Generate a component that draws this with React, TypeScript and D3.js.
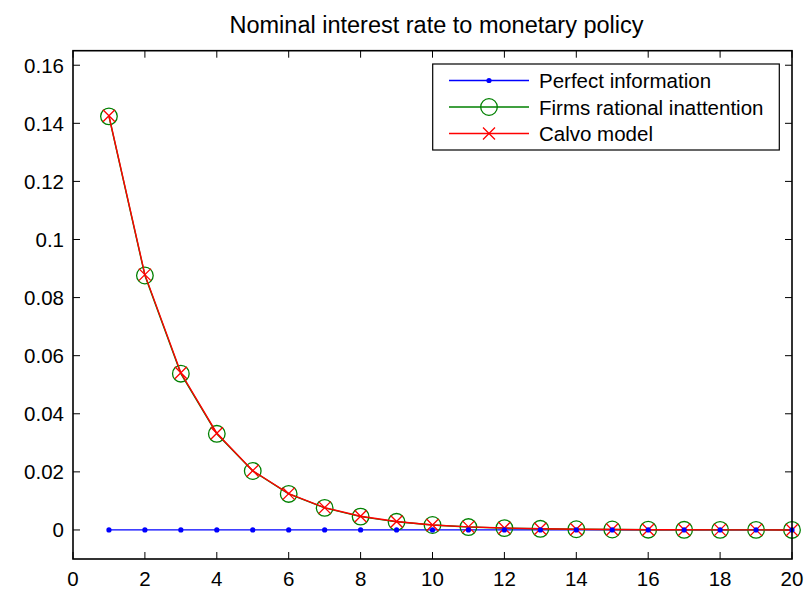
import React from "react";
import * as d3 from "d3";

const periods = [1, 2, 3, 4, 5, 6, 7, 8, 9, 10, 11, 12, 13, 14, 15, 16, 17, 18, 19, 20];
const perfectInfo = [0, 0, 0, 0, 0, 0, 0, 0, 0, 0, 0, 0, 0, 0, 0, 0, 0, 0, 0, 0];
const rationalInattention = [0.1424, 0.0876, 0.0538, 0.0331, 0.0203, 0.0124, 0.0076, 0.0046, 0.0028, 0.0017, 0.001, 0.00063, 0.00039, 0.00024, 0.00015, 0.00009, 0.00005, 0.00003, 0.00002, 0.00001];
const calvo = [0.1426, 0.0879, 0.0541, 0.0333, 0.0204, 0.0125, 0.0077, 0.0047, 0.0029, 0.0017, 0.00105, 0.00065, 0.0004, 0.00024, 0.00015, 0.00009, 0.00006, 0.00003, 0.00002, 0.00001];
const xTicks = [0, 2, 4, 6, 8, 10, 12, 14, 16, 18, 20];
const yTicks = [0, 0.02, 0.04, 0.06, 0.08, 0.1, 0.12, 0.14, 0.16];
const legendLabels = ["Perfect information", "Firms rational inattention", "Calvo model"];
const title = "Nominal interest rate to monetary policy";

const W = 809, H = 596;
const L = 73, R = 792, T = 50.7, B = 559;
const FONT = "'Liberation Sans', Arial, Helvetica, sans-serif";

export default function App() {
  const x = d3.scaleLinear().domain([0, 20]).range([L, R]);
  const y = d3.scaleLinear().domain([-0.01, 0.165]).range([B, T]);
  const line = d3.line<number>().x((_, i) => x(periods[i])).y((d) => y(d));
  const tk = 7;
  const fmt = (v: number) => (v === 0 ? "0" : String(+v.toFixed(2)));

  const xMark = (cx: number, cy: number, s: number, key: string) => (
    <path key={key} d={`M${cx - s},${cy - s}L${cx + s},${cy + s}M${cx - s},${cy + s}L${cx + s},${cy - s}`} stroke="#ff0000" strokeWidth={1.3} fill="none" />
  );

  const legendRows = [80.5, 107, 133.5];
  const lx0 = 449, lx1 = 529, lmx = 489, ltx = 539;

  return (
    <svg width={W} height={H} style={{ position: "fixed", left: 0, top: 0, background: "#fff" }} fontFamily={FONT}>
      <rect x={0} y={0} width={W} height={H} fill="#fff" />
      <text x={(L + R) / 2 + 4} y={33} textAnchor="middle" fontSize={23.5} fill="#000">{title}</text>

      {xTicks.map((t) => (
        <g key={"xt" + t}>
          <line x1={x(t)} x2={x(t)} y1={B} y2={B - tk} stroke="#000" strokeWidth={1} />
          <line x1={x(t)} x2={x(t)} y1={T} y2={T + tk} stroke="#000" strokeWidth={1} />
          <text x={x(t)} y={586} textAnchor="middle" fontSize={20.5} fill="#000">{fmt(t)}</text>
        </g>
      ))}
      {yTicks.map((t) => (
        <g key={"yt" + t}>
          <line x1={L} x2={L + tk} y1={y(t)} y2={y(t)} stroke="#000" strokeWidth={1} />
          <line x1={R} x2={R - tk} y1={y(t)} y2={y(t)} stroke="#000" strokeWidth={1} />
          <text x={64} y={y(t) + 7.5} textAnchor="end" fontSize={20.5} fill="#000">{fmt(t)}</text>
        </g>
      ))}

      <path d={line(perfectInfo) || ""} fill="none" stroke="#0000ff" strokeWidth={1.3} />
      <path d={line(rationalInattention) || ""} fill="none" stroke="#008000" strokeWidth={1.4} />
      {rationalInattention.map((v, i) => (
        <circle key={"c" + i} cx={x(periods[i])} cy={y(v)} r={8.3} fill="none" stroke="#008000" strokeWidth={1.3} />
      ))}
      <path d={line(calvo) || ""} fill="none" stroke="#ff0000" strokeWidth={1.4} />
      {calvo.map((v, i) => xMark(x(periods[i]), y(v), 6, "x" + i))}
      {perfectInfo.map((v, i) => (
        <circle key={"b" + i} cx={x(periods[i])} cy={y(v)} r={2.6} fill="#0000ff" />
      ))}

      <rect x={L} y={T} width={R - L} height={B - T} fill="none" stroke="#000" strokeWidth={1.6} />

      <rect x={432.7} y={64} width={779.3 - 432.7} height={150 - 64} fill="#fff" stroke="#000" strokeWidth={1.2} />
      <line x1={lx0} x2={lx1} y1={legendRows[0]} y2={legendRows[0]} stroke="#0000ff" strokeWidth={1.3} />
      <circle cx={lmx} cy={legendRows[0]} r={2.6} fill="#0000ff" />
      <line x1={lx0} x2={lx1} y1={legendRows[1]} y2={legendRows[1]} stroke="#008000" strokeWidth={1.3} />
      <circle cx={lmx} cy={legendRows[1]} r={8.3} fill="none" stroke="#008000" strokeWidth={1.3} />
      <line x1={lx0} x2={lx1} y1={legendRows[2]} y2={legendRows[2]} stroke="#ff0000" strokeWidth={1.3} />
      {xMark(lmx, legendRows[2], 6, "lx")}
      {legendLabels.map((s, i) => (
        <text key={s} x={ltx} y={legendRows[i] + 7.5} fontSize={20.5} fill="#000">{s}</text>
      ))}
    </svg>
  );
}
